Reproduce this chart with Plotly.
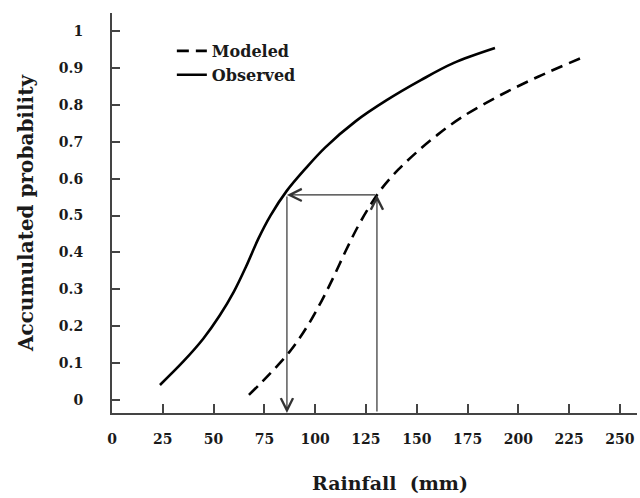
import plotly.graph_objects as go

# Observed cumulative curve (rainfall mm, accumulated probability)
obs_x = [23.6, 35, 45, 53, 60, 66, 72, 78, 86, 95, 105, 120, 135, 152, 168, 188.5]
obs_y = [0.041, 0.104, 0.167, 0.229, 0.294, 0.362, 0.437, 0.500, 0.567, 0.626, 0.685, 0.756, 0.812, 0.867, 0.913, 0.954]

# Modeled cumulative curve
mod_x = [67.4, 78, 88, 96, 103, 109, 115, 121, 127, 133, 141, 150, 160, 172, 190, 210, 231.8]
mod_y = [0.014, 0.073, 0.135, 0.199, 0.267, 0.333, 0.404, 0.470, 0.527, 0.575, 0.625, 0.672, 0.718, 0.766, 0.823, 0.877, 0.929]

# Quantile-mapping arrows
p_level = 0.556
obs_x_at_p = 86.1
mod_x_at_p = 130.4

x_ticks = [0, 25, 50, 75, 100, 125, 150, 175, 200, 225, 250]
y_ticks = [0, 0.1, 0.2, 0.3, 0.4, 0.5, 0.6, 0.7, 0.8, 0.9, 1]
y_tick_text = ["0", "0.1", "0.2", "0.3", "0.4", "0.5", "0.6", "0.7", "0.8", "0.9", "1"]

x_range = [0, 258.4]
y_range = [-0.035, 1.049]

FONT = "DejaVu Serif"
INK = "#1a1a1a"

fig = go.Figure()
fig.add_trace(go.Scatter(
    x=mod_x, y=mod_y, mode="lines", name="Modeled",
    line=dict(color="black", width=2.6, dash="12px,7px", shape="spline", smoothing=1.0),
))
fig.add_trace(go.Scatter(
    x=obs_x, y=obs_y, mode="lines", name="Observed",
    line=dict(color="black", width=2.6, shape="spline", smoothing=1.0),
))

arrow_common = dict(xref="x", yref="y", axref="x", ayref="y", text="", showarrow=True,
                    arrowhead=5, arrowsize=2, arrowwidth=1.2, arrowcolor="#333333",
                    standoff=0, startstandoff=0)
annotations = [
    dict(x=mod_x_at_p, y=p_level, ax=mod_x_at_p, ay=y_range[0], **arrow_common),
    dict(x=obs_x_at_p, y=p_level, ax=mod_x_at_p, ay=p_level, **arrow_common),
    dict(x=obs_x_at_p, y=y_range[0], ax=obs_x_at_p, ay=p_level, **arrow_common),
    dict(xref="paper", yref="paper", x=0.53, y=-0.175, xanchor="center", yanchor="middle",
         text="Rainfall  (mm)", showarrow=False,
         font=dict(family=FONT, size=19, color=INK, weight="bold")),
]

fig.update_layout(
    width=640, height=498,
    margin=dict(l=112, r=3, t=13, b=85),
    paper_bgcolor="white", plot_bgcolor="white",
    showlegend=True,
    legend=dict(x=0.114, y=0.9475, xanchor="left", yanchor="top",
                bgcolor="rgba(0,0,0,0)", tracegroupgap=0,
                font=dict(family=FONT, size=16, color=INK, weight="bold")),
    annotations=annotations,
    xaxis=dict(
        range=x_range, tickmode="array", tickvals=x_ticks, automargin=False,
        showgrid=False, zeroline=False, showline=True, linecolor="#444444", linewidth=2,
        ticks="inside", ticklen=9, tickwidth=1.5, tickcolor="#444444",
        tickfont=dict(family=FONT, size=14, color=INK, weight="bold"),
        ticklabelstandoff=12,
    ),
    yaxis=dict(
        range=y_range, tickmode="array", tickvals=y_ticks, ticktext=y_tick_text, automargin=False,
        showgrid=False, zeroline=False, showline=True, linecolor="#444444", linewidth=2,
        ticks="inside", ticklen=8, tickwidth=1.5, tickcolor="#444444",
        tickfont=dict(family=FONT, size=14, color=INK, weight="bold"),
        ticklabelstandoff=24,
        title=dict(text="Accumulated probability", standoff=20,
                   font=dict(family=FONT, size=20, color=INK, weight="bold")),
    ),
)

fig.write_html("out.html", config={"displayModeBar": False},
               post_script="document.body.style.margin='0px';")
